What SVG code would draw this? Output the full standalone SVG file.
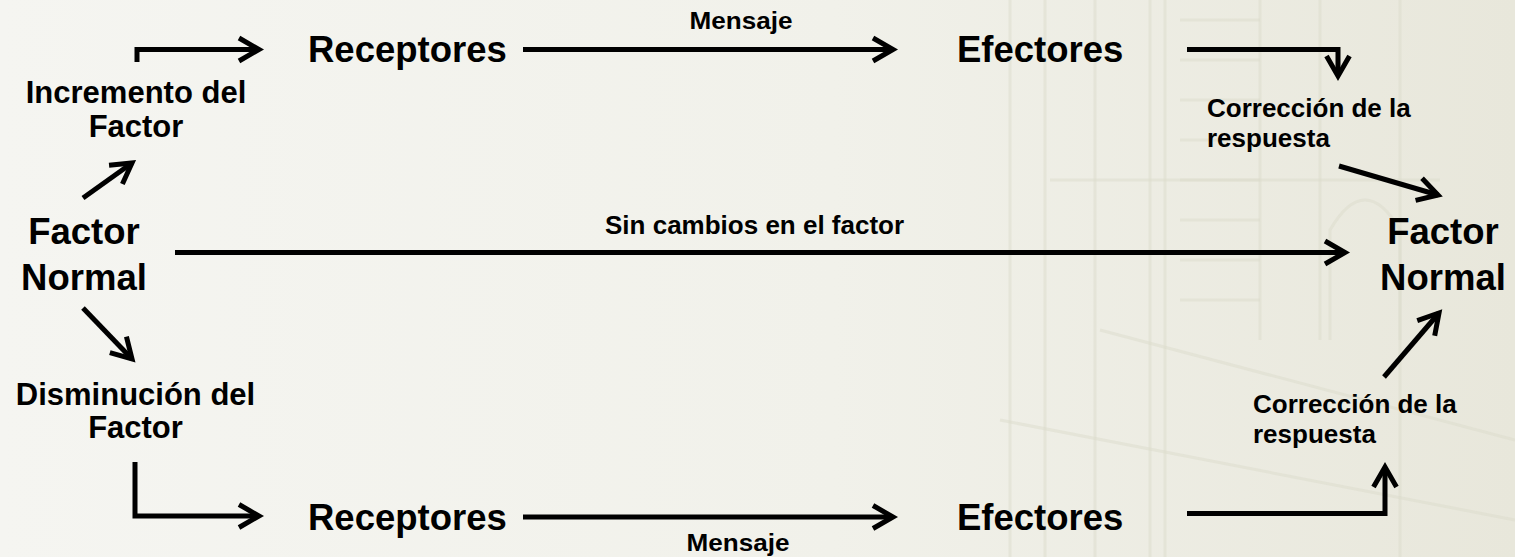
<svg xmlns="http://www.w3.org/2000/svg" width="1515" height="557" viewBox="0 0 1515 557">
<defs>
<linearGradient id="bg" x1="0" y1="0" x2="1" y2="0">
<stop offset="0" stop-color="#f5f5f1"/>
<stop offset="0.55" stop-color="#f1f1ea"/>
<stop offset="1" stop-color="#e8e7db"/>
</linearGradient>
<marker id="chev" markerUnits="userSpaceOnUse" markerWidth="40" markerHeight="40" refX="0" refY="0" orient="auto" overflow="visible">
<path d="M-20,-11.5 L0,0 L-20,11.5" fill="none" stroke="#000" stroke-width="5" stroke-linejoin="miter" stroke-linecap="butt"/>
</marker>
<style>
.lbl{font-family:"Liberation Sans",Arial,sans-serif;font-weight:bold;fill:#000}
.big{font-size:36.5px}
.mid{font-size:31px}
.sm{font-size:26px}
.ctr{text-anchor:middle}
.cn{fill:none;stroke:#000;stroke-width:5;stroke-linejoin:miter;marker-end:url(#chev)}
.sk{fill:none;stroke:#dcdbcc;stroke-width:3;opacity:0.5}
</style>
</defs>
<rect width="1515" height="557" fill="url(#bg)"/>
<g id="background-sketch">
<path class="sk" d="M1010,0 V557 M1045,0 V557 M1095,0 V557 M1150,0 V557 M1165,0 V557 M1260,0 V340 M1320,0 V340 M1400,0 V557"/>
<path class="sk" d="M1180,20 H1260 M1180,60 H1260 M1180,100 H1260 M1180,140 H1260 M1180,180 H1260 M1180,220 H1260 M1180,260 H1260 M1180,300 H1260"/>
<path class="sk" d="M1050,180 H1440 M1330,340 V230 Q1365,170 1400,230 V340"/>
<path class="sk" d="M1000,420 L1515,520 M1100,330 L1515,440" opacity="0.3"/>
</g>
<g id="connectors">
<path class="cn" d="M137,62 V49.5 H259"/>
<path class="cn" d="M523,49.5 H893"/>
<path class="cn" d="M1187,49.5 H1338 V76"/>
<path class="cn" d="M175,252.5 H1345"/>
<path class="cn" d="M83,198 L132,163"/>
<path class="cn" d="M83,308 L132,359"/>
<path class="cn" d="M1339,166 L1438,195"/>
<path class="cn" d="M135,462 V516 H259"/>
<path class="cn" d="M523,517 H893"/>
<path class="cn" d="M1187,513.5 H1385 V467"/>
<path class="cn" d="M1384,377 L1439,313"/>
</g>
<g id="factor-normal-left">
<text class="lbl big ctr" x="84" y="244">Factor</text>
<text class="lbl big ctr" x="84" y="290">Normal</text>
</g>
<g id="incremento">
<text class="lbl mid ctr" x="136" y="103">Incremento del</text>
<text class="lbl mid ctr" x="136" y="137">Factor</text>
</g>
<g id="disminucion">
<text class="lbl mid ctr" x="135.5" y="405">Disminución del</text>
<text class="lbl mid ctr" x="135.5" y="438">Factor</text>
</g>
<g id="receptores-top"><text class="lbl big" x="308" y="62">Receptores</text></g>
<g id="efectores-top"><text class="lbl big" x="957" y="62">Efectores</text></g>
<g id="mensaje-top"><text class="lbl ctr" x="741" y="29" font-size="24" textLength="103" lengthAdjust="spacingAndGlyphs">Mensaje</text></g>
<g id="correccion-top">
<text class="lbl sm" x="1207" y="117">Corrección de la</text>
<text class="lbl sm" x="1207" y="147">respuesta</text>
</g>
<g id="sin-cambios"><text class="lbl sm" x="605" y="234">Sin cambios en el factor</text></g>
<g id="factor-normal-right">
<text class="lbl big ctr" x="1443" y="244">Factor</text>
<text class="lbl big ctr" x="1443" y="290">Normal</text>
</g>
<g id="correccion-bottom">
<text class="lbl sm" x="1253" y="413">Corrección de la</text>
<text class="lbl sm" x="1253" y="443">respuesta</text>
</g>
<g id="receptores-bottom"><text class="lbl big" x="308" y="530">Receptores</text></g>
<g id="efectores-bottom"><text class="lbl big" x="957" y="530">Efectores</text></g>
<g id="mensaje-bottom"><text class="lbl ctr" x="738" y="551" font-size="24" textLength="103" lengthAdjust="spacingAndGlyphs">Mensaje</text></g>
</svg>
